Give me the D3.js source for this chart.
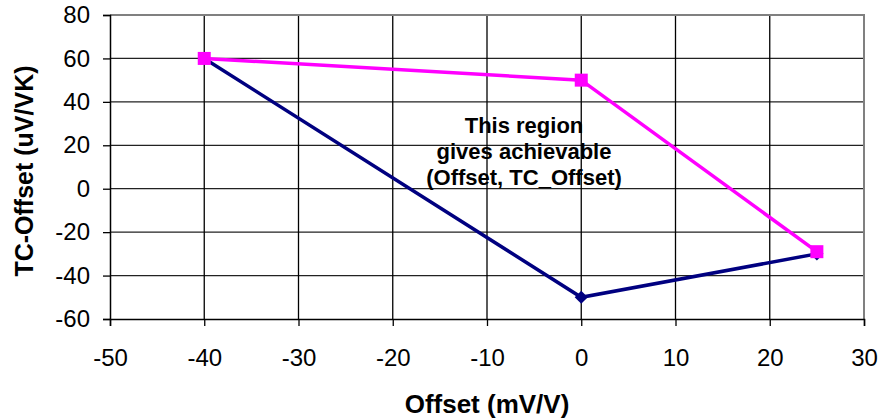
<!DOCTYPE html>
<html>
<head>
<meta charset="utf-8">
<script src="https://cdn.jsdelivr.net/npm/d3@7"></script>
<style>
  body { margin: 0; background: #fff; }
  svg { display: block; font-family: "Liberation Sans", Arial, sans-serif; }
</style>
</head>
<body>
<svg id="chart" width="890" height="419"></svg>
<script>
// data
const xTicks = [-50, -40, -30, -20, -10, 0, 10, 20, 30];
const yTicks = [-60, -40, -20, 0, 20, 40, 60, 80];
const lowerOffset = [-40, 0, 25];
const lowerTC = [60, -50, -30];
const upperOffset = [-40, 0, 25];
const upperTC = [60, 50, -29];
const noteLines = ["This region", "gives achievable", "(Offset, TC_Offset)"];

const svg = d3.select('#chart');
const m = { left: 110, right: 26, top: 15, bottom: 100 };
const W = 890, H = 419;

const x = d3.scaleLinear().domain([-50, 30]).range([m.left, W - m.right]);
const y = d3.scaleLinear().domain([-60, 80]).range([H - m.bottom, m.top]);

// grid
const grid = svg.append('g');
grid.selectAll('.hg').data(yTicks.slice(1, -1)).enter().append('line')
  .attr('x1', x(-50)).attr('x2', x(30))
  .attr('y1', d => y(d)).attr('y2', d => y(d))
  .attr('stroke', '#222').attr('stroke-width', 1.3);
grid.selectAll('.vg').data(xTicks.slice(1, -1)).enter().append('line')
  .attr('y1', y(-60)).attr('y2', y(80))
  .attr('x1', d => x(d)).attr('x2', d => x(d))
  .attr('stroke', '#000').attr('stroke-width', 1.3);

// plot frame: grey top/right
svg.append('path')
  .attr('d', `M${x(-50)},${y(80)}H${x(30)}V${y(-60)}`)
  .attr('fill', 'none').attr('stroke', '#808080').attr('stroke-width', 2);

// axes (plain hyphen minus like the original)
const fmt = d => String(d);
const yAxis = svg.append('g').attr('transform', `translate(${x(-50)},0)`)
  .call(d3.axisLeft(y).tickValues(yTicks).tickFormat(fmt).tickSize(7).tickPadding(13));
const xAxis = svg.append('g').attr('transform', `translate(0,${y(-60)})`)
  .call(d3.axisBottom(x).tickValues(xTicks).tickFormat(fmt).tickSize(7).tickPadding(23));
[xAxis, yAxis].forEach(a => {
  a.attr('font-size', 24).attr('font-family', '"Liberation Sans", Arial, sans-serif');
  a.select('.domain').attr('stroke', '#000').attr('stroke-width', 1.5);
  a.selectAll('.tick line').attr('stroke', '#000').attr('stroke-width', 1.3);
  a.selectAll('.tick text').attr('fill', '#000');
});

// series
const line = d3.line().x(d => x(d[0])).y(d => y(d[1]));
const lower = lowerOffset.map((v, i) => [v, lowerTC[i]]);
const upper = upperOffset.map((v, i) => [v, upperTC[i]]);

svg.append('path').datum(lower).attr('d', line)
  .attr('fill', 'none').attr('stroke', '#000080').attr('stroke-width', 3.5);
svg.selectAll('.dia').data(lower).enter().append('path')
  .attr('d', d3.symbol().type(d3.symbolDiamond2).size(110))
  .attr('transform', d => `translate(${x(d[0])},${y(d[1])})`)
  .attr('fill', '#000080');

svg.append('path').datum(upper).attr('d', line)
  .attr('fill', 'none').attr('stroke', '#ff00ff').attr('stroke-width', 3.5);
svg.selectAll('.sq').data(upper).enter().append('rect')
  .attr('x', d => x(d[0]) - 6.5).attr('y', d => y(d[1]) - 6.5)
  .attr('width', 13).attr('height', 13)
  .attr('fill', '#ff00ff');

// annotation
svg.append('text')
  .attr('x', 524).attr('y', 133)
  .attr('text-anchor', 'middle').attr('font-weight', 'bold').attr('font-size', 22)
  .selectAll('tspan').data(noteLines).enter().append('tspan')
  .attr('x', 524).attr('dy', (d, i) => i ? 26 : 0)
  .text(d => d);

// axis titles
svg.append('text')
  .attr('x', (x(-50) + x(30)) / 2).attr('y', 413)
  .attr('text-anchor', 'middle').attr('font-weight', 'bold').attr('font-size', 26)
  .text('Offset (mV/V)');
svg.append('text')
  .attr('transform', `translate(33,${(y(-60) + y(80)) / 2 + 4}) rotate(-90)`)
  .attr('text-anchor', 'middle').attr('font-weight', 'bold').attr('font-size', 25)
  .text('TC-Offset (uV/VK)');
</script>
</body>
</html>
